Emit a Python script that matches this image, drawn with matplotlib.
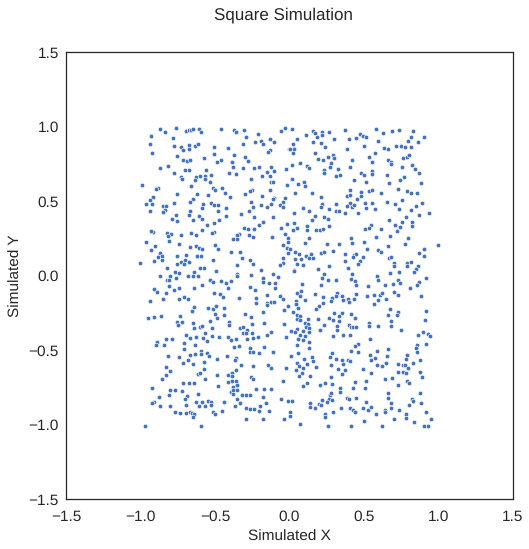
import numpy as np
import matplotlib
matplotlib.use('Agg')
import matplotlib.pyplot as plt

# values, one list per quadrant
upper_left = [(-.870,.984),(-.836,.964),(-.763,.991),(-.696,.971),(-.676,.974),(-.660,.978),(-.649,.984),(-.609,.984),(-.595,.964),(-.461,.984),(-.374,.978),(-.360,.964),(-.306,.978),(-.212,.951),(-.058,.971),(-.031,.991),
(-.931,.937),(-.783,.924),(-.293,.931),(-.132,.917),(-.101,.897),(-.192,.904),(-.232,.897),(-.179,.884),(-.937,.884),(-.776,.871),(-.729,.864),(-.716,.844),(-.676,.878),(-.676,.851),(-.635,.871),(-.615,.884),(-.508,.864),(-.414,.858),(-.313,.884),(-.132,.844),(-.145,.831),(-.004,.851),
(-.924,.824),(-.756,.804),(-.508,.817),(-.374,.811),(-.300,.797),(-.575,.791),(-.716,.777),(-.689,.770),(-.669,.777),(-.461,.777),(-.488,.764),(-.387,.764),(-.280,.770),
(-.870,.723),(-.817,.737),(-.703,.710),(-.676,.710),(-.562,.710),(-.380,.730),(-.313,.723),(-.239,.723),(-.206,.730),(-.125,.730),(-.025,.717),(-.105,.703),(-.152,.696),(-.776,.690),(-.407,.690),(-.360,.683),(-.186,.670),(-.132,.670),(-.729,.663),(-.723,.650),(-.629,.663),(-.602,.670),(-.568,.670),(-.528,.676),(-.568,.650),(-.635,.643),(-.535,.629),(-.260,.650),(-.125,.629),(-.112,.629),
(-.991,.609),(-.662,.603),(-.018,.609),(-.884,.589),(-.897,.582),(-.515,.589),(-.501,.576),(-.454,.589),(-.132,.576),(-.253,.576),(-.266,.569),(-.756,.549),(-.622,.549),(-.548,.542),(-.434,.555),(-.300,.549),(-.186,.535),(-.400,.529),(-.917,.529),(-.649,.515),(-.101,.522),(-.112,.515),(-.031,.522),
(-.937,.508),(-.669,.495),(-.260,.495),(-.045,.495),(-.964,.482),(-.924,.482),(-.776,.488),(-.582,.482),(-.528,.488),(-.508,.475),(-.481,.475),(-.192,.475),(-.125,.482),(-.065,.475),(-.850,.468),(-.830,.468),(-.588,.455),(-.427,.455),(-.246,.461),(-.152,.461),(-.045,.461),
(-.937,.435),(-.836,.441),(-.850,.428),(-.669,.435),(-.481,.435),(-.273,.435),(-.763,.408),(-.676,.408),(-.609,.401),(-.327,.414),(-.427,.401),(-.239,.394),(-.112,.394),(-.790,.381),(-.756,.367),(-.649,.374),(-.588,.381),(-.474,.374),(-.508,.354),(-.555,.340),(-.179,.361),(-.206,.340),(-.018,.347),(-.058,.320),(-.306,.320),(-.280,.314),(-.239,.314),(-.588,.307),
(-.917,.293),(-.931,.300),(-.823,.287),(-.796,.280),(-.816,.267),(-.729,.273),(-.662,.287),(-.629,.273),(-.508,.293),(-.521,.287),(-.031,.280),(-.273,.273),(-.340,.280),(-.354,.273),(-.246,.260),(-.118,.260),(-.380,.246),(-.354,.246),(-.810,.233),(-.964,.226),(-.743,.213),(-.011,.253),(-.011,.226),(-.045,.206),
(-.904,.199),(-.931,.172),(-.669,.193),(-.629,.199),(-.609,.186),(-.588,.179),(-.501,.206),(-.481,.179),(-.018,.186),(-.011,.152),(-.870,.152),(-.394,.159),(-.333,.159),(-.884,.125),(-.857,.132),(-.756,.132),(-.696,.139),(-.622,.132),(-.595,.132),(-.320,.119),(-.045,.119),(-.266,.105),(-.910,.099),(-.857,.105),(-.729,.092),(-.703,.105),(-.676,.092),(-.515,.105),(-1.004,.085),(-.756,.078),(-.709,.078),(-.246,.078),(-.353,.072),(-.045,.085),(-.065,.072),(-.823,.052),(-.602,.052),(-.575,.052),(-.192,.038),(-.770,.025),(-.743,.018),(-.642,.025),(-.494,.031),(-.353,.011),(-.260,.004),(-.112,.011)]

upper_right = [(.016,.984),(.110,.944),(.157,.971),(.170,.957),(.183,.931),(.217,.964),(.217,.944),(.264,.964),(.298,.917),(.371,.978),(.398,.917),(.445,.924),(.472,.951),(.492,.937),(.512,.931),(.579,.984),(.626,.957),(.687,.971),(.734,.978),(.828,.971),(.814,.931),(.902,.931),(.794,.904),(.861,.897),(.593,.904),(.049,.917),(.157,.897),(.210,.890),(.237,.864),(.022,.884),(.004,.851),(.029,.851),(.022,.824),(.385,.851),(.499,.871),(.633,.858),(.660,.851),(.714,.871),(.747,.871),(.774,.864),(.814,.864),(.573,.824),(.170,.824),(.291,.811),(.257,.797),(.298,.791),(.190,.783),(.224,.777),(.418,.777),(.532,.797),(.553,.764),(.660,.777),(.680,.764),(.680,.750),(.761,.791),(.787,.797),(.801,.811),(.069,.756),(.277,.756),(.016,.743),(.116,.737),(.130,.723),(.271,.730),(.324,.717),(.405,.730),(.754,.730),(.821,.743),(.841,.717),(.230,.710),(.230,.690),(.553,.703),(.553,.683),(.479,.690),(.499,.676),(.868,.690),(.311,.670),(.338,.676),(.653,.676),(.767,.663),(.016,.650),(.432,.643),(.740,.643),(.512,.629),(.667,.622),(.881,.622),(.056,.615),(.096,.629),(.103,.603),(.727,.582),(.036,.555),(.150,.555),(.405,.576),(.479,.562),(.532,.569),(.553,.576),(.613,.555),(.787,.569),(.814,.555),(.855,.555),(.210,.528),(.385,.535),(.405,.542),(.479,.535),(.452,.515),(.754,.508),(.653,.495),(.405,.488),(.217,.482),(.311,.482),(.506,.488),(.553,.488),(.707,.482),(.888,.488),(.385,.468),(.418,.461),(.432,.475),(.210,.461),(.089,.455),(.264,.447),(.512,.455),(.573,.447),(.734,.447),(.848,.468),(.814,.441),(.130,.435),(.311,.435),(.331,.435),(.371,.421),(.459,.421),(.029,.421),(.170,.401),(.230,.394),(.257,.381),(.150,.374),(.868,.408),(.935,.421),(.781,.394),(.667,.374),(.754,.360),(.821,.360),(.029,.354),(.264,.333),(.116,.333),(.707,.340),(.821,.333),(.740,.327),(.546,.340),(.532,.320),(.506,.314),(.613,.314),(.049,.320),(.022,.307),(.116,.307),(.177,.307),(.204,.307),(.224,.314),(.720,.300),(.412,.253),(.130,.253),(.103,.219),(.418,.219),(.579,.260),(.673,.267),(.794,.253),(.499,.226),(.774,.213),(.251,.213),(.331,.213),(.995,.206),(.660,.199),(.902,.179),(.519,.179),(.593,.172),(.613,.159),(.291,.166),(.210,.152),(.230,.159),(.868,.152),(.902,.132),(.004,.179),(.036,.159),(.063,.145),(.110,.132),(.143,.145),(.130,.119),(.157,.119),(.036,.112),(.076,.112),(.371,.145),(.432,.139),(.445,.145),(.425,.125),(.492,.125),(.667,.119),(.680,.125),(.371,.099),(.472,.099),(.459,.078),(.700,.085),(.700,.065),(.787,.085),(.814,.092),(.787,.065),(.861,.065),(.049,.078),(.089,.072),(.264,.065),(.391,.052),(.848,.045),(.029,.038),(.029,.031),(.190,.045),(.834,.025),(.734,.025),(.673,.018),(.230,.011),(.418,.011)]

lower_left = [(-.870,-.002),(-.803,-.002),(-.763,-.016),(-.683,-.002),(-.649,-.002),(-.615,-.002),(-.823,-.029),(-.810,-.029),(-.535,-.029),(-.515,-.043),(-.461,-.036),(-.427,-.049),(-.394,-.036),(-.353,-.002),(-.179,-.016),(-.179,-.043),(-.139,-.049),(-.098,-.049),(-.078,-.009),(-.810,-.069),(-.776,-.096),(-.743,-.083),(-.910,-.089),(-.890,-.110),(-.830,-.116),(-.642,-.083),(-.588,-.063),(-.414,-.083),(-.266,-.076),(-.233,-.096),(-.098,-.083),(-.508,-.116),(-.468,-.123),(-.447,-.143),(-.340,-.150),(-.226,-.150),(-.152,-.130),(-.065,-.136),(-.045,-.157),(-.743,-.157),(-.709,-.143),(-.683,-.157),(-.850,-.157),(-.937,-.170),(-.125,-.177),(-.105,-.177),(-.152,-.183),(-.152,-.197),(-.226,-.183),(-.011,-.204),(-.642,-.210),(-.655,-.237),(-.548,-.217),(-.515,-.224),(-.494,-.204),(-.441,-.217),(-.038,-.230),(-.179,-.244),(-.501,-.257),(-.488,-.284),(-.441,-.264),(-.300,-.257),(-.260,-.277),(-.951,-.284),(-.910,-.277),(-.864,-.271),(-.736,-.271),(-.756,-.311),(-.723,-.311),(-.749,-.331),(-.649,-.318),(-.535,-.304),(-.407,-.311),(-.407,-.331),(-.172,-.318),(-.253,-.324),(-.038,-.324),(-.642,-.351),(-.602,-.344),(-.588,-.338),(-.521,-.351),(-.333,-.351),(-.313,-.344),(-.286,-.365),(-.568,-.385),(-.521,-.405),(-.696,-.398),(-.669,-.418),(-.629,-.412),(-.582,-.418),(-.555,-.438),(-.474,-.412),(-.414,-.412),(-.394,-.432),(-.360,-.425),(-.313,-.385),(-.293,-.385),(-.253,-.385),(-.286,-.425),(-.246,-.418),(-.212,-.412),(-.152,-.398),(-.125,-.378),(-.025,-.412),(-.830,-.425),(-.790,-.425),(-.890,-.445),(-.897,-.465),(-.843,-.465),(-.709,-.452),(-.709,-.492),(-.635,-.465),(-.595,-.506),(-.595,-.526),(-.555,-.519),(-.374,-.479),(-.340,-.472),(-.266,-.485),(-.266,-.512),(-.246,-.512),(-.206,-.519),(-.172,-.479),(-.112,-.512),(-.816,-.539),(-.743,-.546),(-.669,-.532),(-.635,-.526),(-.541,-.539),(-.421,-.539),(-.360,-.553),(-.367,-.566),(-.487,-.559),(-.682,-.566),(-.716,-.586),(-.649,-.593),(-.575,-.579),(-.326,-.600),(-.246,-.606),(-.145,-.600),(-.125,-.620),(-.025,-.620),(-.830,-.613),(-.575,-.626),(-.803,-.640),(-.830,-.667),(-.857,-.694),(-.615,-.660),(-.602,-.653),(-.487,-.667),(-.414,-.667),(-.387,-.653),(-.360,-.633),(-.387,-.673),(-.260,-.680),(-.246,-.694),(-.568,-.694),(-.414,-.714),(-.387,-.707),(-.360,-.707),(-.045,-.707),(-.716,-.720),(-.676,-.720),(-.642,-.720),(-.481,-.741),(-.380,-.747),(-.353,-.734),(-.924,-.754),(-.803,-.767),(-.770,-.767),(-.723,-.774),(-.615,-.794),(-.394,-.781),(-.380,-.794),(-.380,-.767),(-.353,-.767),(-.226,-.761),(-.172,-.761),(-.125,-.761),(-.320,-.801),(-.293,-.801),(-.266,-.801),(-.810,-.801),(-.877,-.814),(-.689,-.808),(-.703,-.828),(-.353,-.828),(-.179,-.814),(-.058,-.828),(-.011,-.841),(-.910,-.848),(-.924,-.855),(-.548,-.841),(-.528,-.848),(-.588,-.848),(-.626,-.848),(-.441,-.848),(-.333,-.855),(-.157,-.855),(-.870,-.875),(-.803,-.875),(-.696,-.868),(-.608,-.875),(-.568,-.875),(-.528,-.868),(-.367,-.875),(-.199,-.875),(-.291,-.888),(-.264,-.895),(-.239,-.895),(-.206,-.908),(-.138,-.908),(-.771,-.915),(-.736,-.922),(-.696,-.922),(-.669,-.915),(-.655,-.922),(-.642,-.928),(-.649,-.948),(-.515,-.915),(-.501,-.928),(-.454,-.908),(-.293,-.962),(-.181,-.962),(-.040,-.962),(-.972,-1.009),(-.595,-1.009)]

lower_right = [(.217,-.016),(.257,-.029),(.311,-.029),(.412,-.022),(.438,-.036),(.586,-.002),(.593,-.029),(.727,-.029),(.915,-.016),(.083,-.056),(.210,-.063),(.445,-.063),(.526,-.069),(.640,-.063),(.693,-.056),(.740,-.049),(.868,-.043),(.855,-.063),(.808,-.083),(.076,-.103),(.049,-.116),(.069,-.136),(.103,-.163),(.170,-.123),(.224,-.143),(.318,-.116),(.311,-.136),(.284,-.150),(.351,-.136),(.358,-.163),(.391,-.157),(.398,-.177),(.432,-.157),(.445,-.123),(.519,-.136),(.566,-.130),(.606,-.130),(.620,-.116),(.593,-.163),(.646,-.157),(.700,-.110),(.727,-.130),(.881,-.136),(.043,-.170),(.043,-.190),(.056,-.217),(.197,-.204),(.177,-.224),(.224,-.183),(.277,-.170),(.566,-.190),(.673,-.224),(.022,-.244),(.298,-.250),(.351,-.250),(.412,-.257),(.727,-.244),(.720,-.264),(.660,-.264),(.915,-.237),(.049,-.264),(.069,-.271),(.049,-.291),(.264,-.284),(.331,-.271),(.190,-.291),(.291,-.298),(.331,-.304),(.438,-.284),(.680,-.304),(.908,-.298),(.123,-.291),(.069,-.298),(.103,-.318),(.123,-.324),(.230,-.331),(.318,-.338),(.398,-.331),(.412,-.344),(.425,-.344),(.445,-.344),(.532,-.318),(.532,-.338),(.593,-.338),(.680,-.338),(.110,-.344),(.130,-.351),(.049,-.358),(.009,-.371),(.036,-.378),(.089,-.371),(.130,-.378),(.204,-.365),(.318,-.365),(.747,-.365),(.895,-.378),(.928,-.391),(.942,-.405),(.861,-.398),(.069,-.398),(.103,-.405),(.291,-.405),(.358,-.398),(.405,-.398),(.056,-.425),(.089,-.432),(.130,-.445),(.539,-.425),(.049,-.465),(.130,-.485),(.459,-.459),(.438,-.472),(.412,-.506),(.459,-.512),(.660,-.492),(.586,-.506),(.915,-.459),(.854,-.465),(.848,-.485),(.854,-.512),(.056,-.519),(.009,-.539),(.284,-.519),(.271,-.546),(.539,-.532),(.653,-.539),(.573,-.553),(.546,-.566),(.787,-.532),(.781,-.559),(.150,-.546),(.157,-.573),(.096,-.559),(.311,-.559),(.351,-.566),(.391,-.566),(.405,-.573),(.358,-.593),(.116,-.593),(.049,-.586),(.063,-.606),(.089,-.620),(.177,-.613),(.277,-.600),(.586,-.600),(.620,-.606),(.646,-.586),(.727,-.593),(.761,-.600),(.774,-.600),(.794,-.620),(.827,-.586),(.875,-.566),(.043,-.633),(.083,-.653),(.324,-.626),(.351,-.660),(.371,-.633),(.492,-.626),(.546,-.653),(.727,-.646),(.761,-.646),(.781,-.653),(.875,-.646),(.063,-.673),(.136,-.673),(.277,-.680),(.351,-.660),(.888,-.680),(.639,-.693),(.687,-.687),(.437,-.713),(.512,-.707),(.787,-.707),(.801,-.720),(.116,-.720),(.089,-.741),(.204,-.733),(.237,-.720),(.284,-.727),(.338,-.754),(.338,-.781),(.425,-.754),(.505,-.754),(.727,-.734),(.660,-.787),(.875,-.787),(.271,-.801),(.277,-.788),(.385,-.820),(.398,-.828),(.445,-.820),(.660,-.820),(.821,-.827),(.828,-.841),(.264,-.827),(.284,-.834),(.217,-.834),(.016,-.841),(.136,-.854),(.197,-.861),(.251,-.847),(.512,-.847),(.680,-.854),(.801,-.868),(.881,-.854),(.136,-.881),(.170,-.888),(.210,-.868),(.344,-.888),(.405,-.888),(.425,-.901),(.438,-.915),(.492,-.888),(.526,-.901),(.546,-.881),(.639,-.901),(.680,-.888),(.733,-.901),(.291,-.915),(.002,-.915),(.002,-.941),(.237,-.928),(.237,-.948),(.579,-.928),(.639,-.915),(.781,-.928),(.781,-.955),(.915,-.915),(.948,-.962),(.700,-.962),(.499,-.975),(.834,-.982),(.069,-.995),(.257,-1.009),(.412,-1.009),(.620,-1.009),(.902,-1.009),(.928,-1.009)]

points = np.array(upper_left + upper_right + lower_left + lower_right)
sim_x = points[:, 0]
sim_y = points[:, 1]
ticks = [-1.5, -1.0, -0.5, 0.0, 0.5, 1.0, 1.5]

plt.rcParams['font.family'] = ['Liberation Sans', 'DejaVu Sans']
plt.rcParams['text.color'] = '#262626'
plt.rcParams['axes.labelcolor'] = '#262626'
plt.rcParams['xtick.color'] = '#262626'
plt.rcParams['ytick.color'] = '#262626'
plt.rcParams['text.hinting'] = 'no_hinting'

fig = plt.figure(figsize=(529 / 72, 549 / 72), dpi=72)
ax = fig.add_axes([66 / 529, 1 - 499 / 549, 447 / 529, 447 / 549])

ax.scatter(sim_x, sim_y, s=21, c='#4472bf', edgecolors='white', linewidths=0.6)

ax.set_xlim(-1.5, 1.5)
ax.set_ylim(-1.5, 1.5)
ax.set_xticks(ticks)
ax.set_yticks(ticks)
ax.tick_params(length=0, labelsize=15.4)
ax.tick_params(axis='x', pad=11)
ax.tick_params(axis='y', pad=7)
ax.set_xlabel('Simulated X', fontsize=15.4, labelpad=6)
ax.set_ylabel('Simulated Y', fontsize=15.4, labelpad=6)
for spine in ax.spines.values():
    spine.set_color('#262626')
    spine.set_linewidth(1.25)

fig.text(283 / 529, 1 - 15 / 549, 'Square Simulation', fontsize=17, ha='center', va='center')

plt.savefig('out.png', dpi=72)
